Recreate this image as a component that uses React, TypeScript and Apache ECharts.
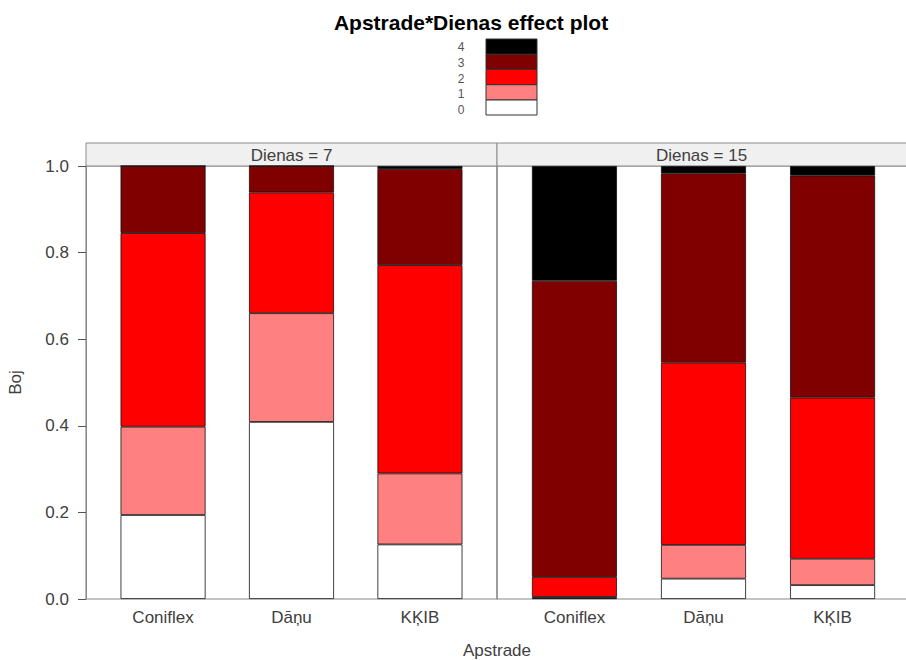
import React, { useEffect, useRef } from "react";
import * as echarts from "echarts";

const treatments = ["Coniflex", "Dāņu", "KĶIB"];
const panelLabels = ["Dienas = 7", "Dienas = 15"];
const levels = ["0", "1", "2", "3", "4"];
const levelColors = ["#ffffff", "#ff8080", "#ff0000", "#800000", "#000000"];

// Stacked proportions per Boj level, Dienas = 7 (Coniflex, Dāņu, KĶIB)
const d7_level0 = [0.194, 0.409, 0.126];
const d7_level1 = [0.204, 0.251, 0.164];
const d7_level2 = [0.447, 0.279, 0.481];
const d7_level3 = [0.155, 0.061, 0.222];
const d7_level4 = [0.0, 0.0, 0.007];

// Dienas = 15 (Coniflex, Dāņu, KĶIB)
const d15_level0 = [0.002, 0.047, 0.032];
const d15_level1 = [0.003, 0.078, 0.061];
const d15_level2 = [0.046, 0.421, 0.372];
const d15_level3 = [0.684, 0.437, 0.513];
const d15_level4 = [0.265, 0.017, 0.022];

const panelData = [
  [d7_level0, d7_level1, d7_level2, d7_level3, d7_level4],
  [d15_level0, d15_level1, d15_level2, d15_level3, d15_level4],
];

const FONT = "'Liberation Sans', Arial, sans-serif";
const TEXT = "#404040";
const FRAME = "#8a8a8a";

export default function App() {
  const ref = useRef<HTMLDivElement>(null);
  useEffect(() => {
    document.body.style.margin = "0";
    if (!ref.current) return;
    const chart = echarts.init(ref.current, null, { renderer: "svg" });

    // lattice-style panels: x range 0.4..3.6 around categories 1..3
    const panels = [
      { left: 86, width: 411 },
      { left: 497, width: 413 },
    ];
    const plotTop = 166;
    const plotH = 433;
    const grids = panels.map((p) => {
      const unit = p.width / 3.2;
      return {
        left: p.left + 0.1 * unit,
        top: plotTop,
        width: 3 * unit,
        height: plotH,
      };
    });

    const series: any[] = [];
    panelData.forEach((lv, p) => {
      lv.forEach((vals, i) => {
        series.push({
          type: "bar",
          name: levels[i],
          stack: "panel" + p,
          xAxisIndex: p,
          yAxisIndex: p,
          barWidth: 85,
          data: vals,
          itemStyle: {
            color: levelColors[i],
            borderColor: "#111",
            borderWidth: 0.8,
          },
          silent: true,
        });
      });
    });

    const xAxes = grids.map((_, p) => ({
      type: "category",
      gridIndex: p,
      data: treatments,
      boundaryGap: true,
      axisLine: { show: false },
      axisTick: { show: false },
      splitLine: { show: false },
      axisLabel: {
        color: TEXT,
        fontSize: 17,
        fontFamily: FONT,
        margin: 10,
      },
    }));

    const yAxes = grids.map((g, p) => ({
      type: "value",
      gridIndex: p,
      min: 0,
      max: 1,
      interval: 0.2,
      show: p === 0,
      offset: g.left - panels[p].left,
      splitLine: { show: false },
      axisLine: { show: true, lineStyle: { color: FRAME } },
      axisTick: { show: true, length: 8, lineStyle: { color: "#555" } },
      axisLabel: {
        formatter: (v: number) => v.toFixed(1),
        color: TEXT,
        fontSize: 17,
        fontFamily: FONT,
        margin: 17,
      },
      name: p === 0 ? "Boj" : "",
      nameLocation: "middle",
      nameGap: 62,
      nameTextStyle: { color: TEXT, fontSize: 17, fontFamily: FONT },
    }));

    const graphic: any[] = [];
    // title
    graphic.push({
      type: "text",
      x: 471,
      y: 22,
      style: {
        text: "Apstrade*Dienas effect plot",
        fontSize: 21,
        fontWeight: "bold",
        fontFamily: FONT,
        fill: "#000",
        align: "center",
        verticalAlign: "middle",
      },
    });
    // legend
    const boxH = 15.2;
    const top = 39;
    levels.forEach((lab, i) => {
      const row = levels.length - 1 - i;
      graphic.push({
        type: "rect",
        shape: { x: 486, y: top + row * boxH, width: 51, height: boxH },
        style: { fill: levelColors[i], stroke: "#333", lineWidth: 1 },
      });
      graphic.push({
        type: "text",
        x: 461,
        y: 47 + row * 15.75,
        style: {
          text: lab,
          fontSize: 12,
          fontFamily: FONT,
          fill: "#555",
          align: "center",
          verticalAlign: "middle",
        },
      });
    });
    // strips and panel frames
    panels.forEach((g, p) => {
      graphic.push({
        type: "rect",
        shape: { x: g.left, y: 143, width: g.width, height: 23 },
        style: { fill: "#f0f0f0", stroke: FRAME, lineWidth: 1 },
      });
      graphic.push({
        type: "text",
        x: g.left + g.width / 2 - (p === 1 ? 2 : 0),
        y: 155,
        style: {
          text: panelLabels[p],
          fontSize: 17,
          fontFamily: FONT,
          fill: TEXT,
          align: "center",
          verticalAlign: "middle",
        },
      });
      graphic.push({
        type: "rect",
        z: -1,
        shape: { x: g.left, y: plotTop, width: g.width, height: plotH },
        style: { fill: "none", stroke: FRAME, lineWidth: 1.2 },
      });
    });
    // x axis name
    graphic.push({
      type: "text",
      x: 497,
      y: 650,
      style: {
        text: "Apstrade",
        fontSize: 17,
        fontFamily: FONT,
        fill: TEXT,
        align: "center",
        verticalAlign: "middle",
      },
    });

    chart.setOption({
      animation: false,
      backgroundColor: "#ffffff",
      grid: grids,
      xAxis: xAxes,
      yAxis: yAxes,
      series,
      graphic,
    });
    return () => chart.dispose();
  }, []);
  return <div ref={ref} style={{ width: 906, height: 660 }} />;
}
